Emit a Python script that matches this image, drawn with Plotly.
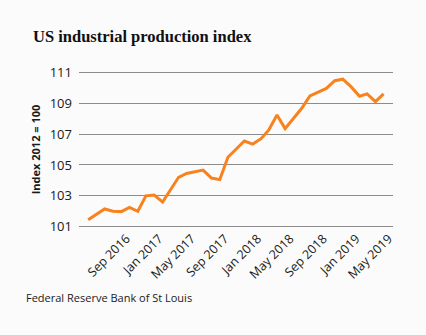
import plotly.graph_objects as go

# Monthly US industrial production index (2012 = 100), May 2016 - May 2019
months = [
    "2016-05", "2016-06", "2016-07", "2016-08", "2016-09", "2016-10", "2016-11", "2016-12",
    "2017-01", "2017-02", "2017-03", "2017-04", "2017-05", "2017-06", "2017-07", "2017-08",
    "2017-09", "2017-10", "2017-11", "2017-12", "2018-01", "2018-02", "2018-03", "2018-04",
    "2018-05", "2018-06", "2018-07", "2018-08", "2018-09", "2018-10", "2018-11", "2018-12",
    "2019-01", "2019-02", "2019-03", "2019-04", "2019-05",
]
index_values = [
    101.45, 101.80, 102.15, 102.00, 101.98, 102.25, 102.00, 103.00,
    103.05, 102.60, 103.35, 104.20, 104.45, 104.58, 104.67, 104.15,
    104.05, 105.50, 106.05, 106.55, 106.35, 106.70, 107.25, 108.23,
    107.35, 108.05, 108.65, 109.47, 109.72, 109.95, 110.45, 110.55,
    110.05, 109.45, 109.60, 109.10, 109.60,
]

tick_dates = ["2016-09-01", "2017-01-01", "2017-05-01", "2017-09-01", "2018-01-01",
              "2018-05-01", "2018-09-01", "2019-01-01", "2019-05-01"]
tick_text = ["Sep 2016", "Jan 2017", "May 2017", "Sep 2017", "Jan 2018",
             "May 2018", "Sep 2018", "Jan 2019", "May 2019"]
y_ticks = [101, 103, 105, 107, 109, 111]

BG = "#fbfbfb"
GRID = "#8c8c8c"
ORANGE = "#f7821e"
TEXT = "#1a1a1a"

W, H = 426, 335
PLOT_TOP, PLOT_BOTTOM = 71, 228

fig = go.Figure()
fig.add_trace(go.Scatter(
    x=[m + "-01" for m in months],
    y=index_values,
    mode="lines",
    line=dict(color=ORANGE, width=3),
    hoverinfo="x+y",
))

fig.update_layout(
    width=W,
    height=H,
    paper_bgcolor=BG,
    plot_bgcolor=BG,
    margin=dict(l=79, r=33, t=PLOT_TOP, b=H - PLOT_BOTTOM),
    showlegend=False,
    font=dict(family="Open Sans", color=TEXT),
    title=dict(
        text="<b>US industrial production index</b>",
        font=dict(family="Liberation Serif", size=16.5, color="#111111"),
        x=33 / W, xanchor="left", xref="container",
        y=1 - 42 / H, yanchor="bottom", yref="container",
    ),
)

fig.update_xaxes(
    type="date",
    range=["2016-03-28", "2019-06-05"],
    tickmode="array",
    tickvals=tick_dates,
    ticktext=tick_text,
    tickangle=-45,
    tickfont=dict(size=12.5, color=TEXT),
    ticklabelshift=5,
    showgrid=False,
    showline=False,
    zeroline=False,
    ticks="",
)

# Small padding so the 101 and 111 gridlines sit just inside the plot area
fig.update_yaxes(
    range=[100.92, 111.08],
    tickmode="array",
    tickvals=y_ticks,
    tickfont=dict(size=13, color=TEXT),
    showgrid=True,
    gridcolor=GRID,
    gridwidth=1.2,
    zeroline=False,
    showline=False,
    ticks="",
    ticklabelstandoff=6,
    title=dict(
        text="<b>Index 2012 = 100</b>",
        font=dict(size=11, color=TEXT),
        standoff=6,
    ),
)

fig.add_annotation(
    text="Federal Reserve Bank of St Louis",
    x=33 / W - 79 / (W - 79 - 33), xref="paper", xanchor="left",
    y=(PLOT_BOTTOM - 297) / (PLOT_BOTTOM - PLOT_TOP), yref="paper", yanchor="middle",
    showarrow=False,
    font=dict(size=11, color=TEXT),
)

fig.write_html("out.html")
